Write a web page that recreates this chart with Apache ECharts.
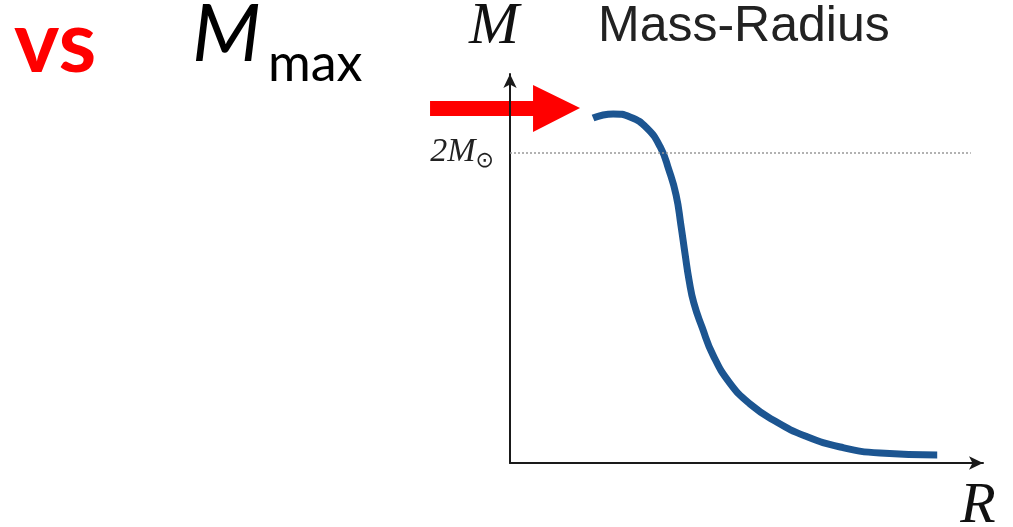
<!DOCTYPE html>
<html>
<head>
<meta charset="utf-8">
<script src="https://cdn.jsdelivr.net/npm/echarts@6/dist/echarts.min.js"></script>
<style>
  html, body { margin: 0; padding: 0; background: #fff; }
  #main { width: 1013px; height: 527px; }
</style>
</head>
<body>
<div id="main"></div>
<script>
/* 质量-半径曲线 */
var radius = [1.73, 2.15, 2.50, 2.85, 3.13, 3.31, 3.46, 3.56, 3.65, 3.73, 3.83, 4.00, 4.23, 4.58, 5.00, 5.52, 6.15, 6.88, 7.71, 8.90];
var mass   = [2.221, 2.248, 2.228, 2.157, 2.035, 1.887, 1.726, 1.533, 1.339, 1.178, 1.030, 0.876, 0.695, 0.515, 0.380, 0.270, 0.174, 0.103, 0.064, 0.052];
var twoSolar = 2;        // 2M⊙ 参考线
var lineEndR = 9.6;

var curve = radius.map(function (r, i) { return [r, mass[i]]; });

var chart = echarts.init(document.getElementById('main'));

var axisStyle = {
    show: true,
    symbol: ['none', 'arrow'],
    symbolSize: [10, 14],
    lineStyle: { color: '#1a1a1a', width: 2 }
};

chart.setOption({
    backgroundColor: '#fff',
    animation: false,
    grid: { left: 510, right: 30, top: 74, bottom: 64 },
    xAxis: {
        type: 'value', min: 0, max: 9.854,
        axisLine: axisStyle,
        axisTick: { show: false }, axisLabel: { show: false }, splitLine: { show: false }
    },
    yAxis: {
        type: 'value', min: 0, max: 2.505,
        axisLine: axisStyle,
        axisTick: { show: false }, axisLabel: { show: false }, splitLine: { show: false }
    },
    series: [{
        type: 'line',
        data: curve,
        smooth: 0.5,
        showSymbol: false,
        lineStyle: { color: '#1c5591', width: 7, cap: 'butt' },
        markLine: {
            silent: true,
            symbol: ['none', 'none'],
            lineStyle: { color: '#999', type: [2, 2], width: 1.5 },
            label: {
                show: true,
                position: 'start',
                distance: 16,
                formatter: '{m|2M}{s|⊙}',
                rich: {
                    m: { fontFamily: 'Liberation Serif', fontStyle: 'italic', fontSize: 34, color: '#222' },
                    s: { fontFamily: 'DejaVu Sans', fontSize: 22, color: '#222', padding: [18, 0, 0, 0] }
                }
            },
            data: [[{ coord: [0, twoSolar] }, { coord: [lineEndR, twoSolar] }]]
        }
    }]
});

var start = chart.convertToPixel({ gridIndex: 0 }, curve[0]);
var tx = start[0] - 13, ty = start[1] - 10;
var arrowPts = [[-150, -7], [-47, -7], [-47, -23], [0, 0], [-47, 24], [-47, 8], [-150, 8]]
    .map(function (p) { return [tx + p[0], ty + p[1]]; });

chart.setOption({
    graphic: [
        { type: 'polygon', shape: { points: arrowPts }, style: { fill: '#ff0000' } },
        { type: 'text', style: { text: 'vs', x: 14, y: 44, fill: '#ff0000', font: 'bold 86px Lato', verticalAlign: 'middle' } },
        { type: 'text', style: { text: 'M', x: 192, y: 35, fill: '#000', font: 'italic 80px Lato', verticalAlign: 'middle' } },
        { type: 'text', style: { text: 'max', x: 268, y: 64, fill: '#000', font: '52px Lato', verticalAlign: 'middle' } },
        { type: 'text', style: { text: 'M', x: 494, y: 27, fill: '#111', font: 'italic 60px "Liberation Serif"', align: 'center', verticalAlign: 'middle' } },
        { type: 'text', style: { text: 'Mass-Radius', x: 598, y: 27, fill: '#222', font: '50px "Liberation Sans"', verticalAlign: 'middle' } },
        { type: 'text', style: { text: 'R', x: 978, y: 507, fill: '#111', font: 'italic 58px "Liberation Serif"', align: 'center', verticalAlign: 'middle' } }
    ]
});
</script>
</body>
</html>
